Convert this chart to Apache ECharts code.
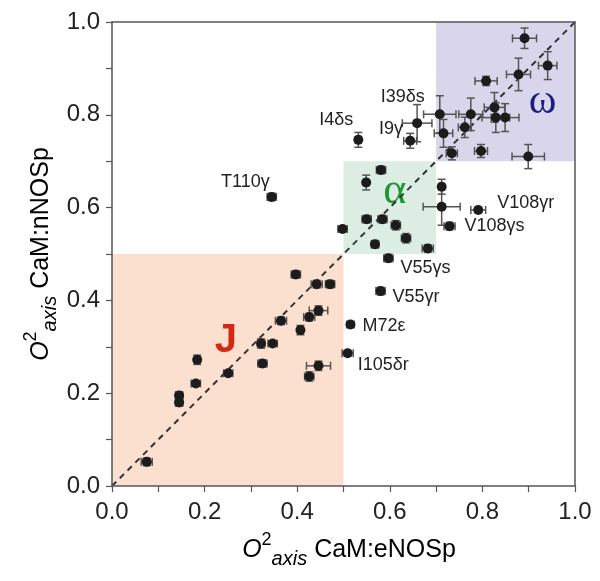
<!DOCTYPE html>
<html><head><meta charset="utf-8">
<script src="https://cdn.jsdelivr.net/npm/echarts@6/dist/echarts.min.js"></script>
<style>html,body{margin:0;padding:0;background:#fff}#c{width:600px;height:581px}</style>
</head><body><div id="c"></div>
<script>
// ---- data ----
const xVals = [0.075,0.145,0.145,0.184,0.181,0.251,0.322,0.347,0.325,0.365,0.397,0.442,0.471,0.446,0.426,0.407,0.446,0.426,0.515,0.509,0.580,0.597,0.345,
  0.581,0.549,0.550,0.584,0.613,0.498,0.568,0.635,0.682,0.712,0.712,0.729,0.791,0.532,0.659,0.644,
  0.891,0.941,0.878,0.808,0.826,0.775,0.708,0.829,0.849,0.762,0.716,0.734,0.797,0.899];
const yVals = [0.052,0.195,0.180,0.272,0.221,0.243,0.307,0.307,0.264,0.356,0.456,0.435,0.435,0.378,0.364,0.336,0.259,0.236,0.348,0.286,0.420,0.491,0.623,
  0.681,0.654,0.575,0.575,0.562,0.554,0.521,0.534,0.512,0.645,0.602,0.560,0.595,0.746,0.782,0.744,
  0.965,0.906,0.887,0.873,0.816,0.801,0.801,0.794,0.794,0.773,0.760,0.717,0.722,0.710];
const xErr = [0.012,0.008,0.008,0.006,0.010,0.010,0.008,0.010,0.010,0.012,0.010,0.012,0.010,0.020,0.012,0.006,0.026,0.010,0.008,0.012,0.010,0.010,0.010,
  0.010,0.006,0.010,0.010,0.010,0.010,0.008,0.010,0.012,0.006,0.040,0.012,0.016,0.006,0.032,0.014,
  0.026,0.020,0.026,0.024,0.022,0.026,0.035,0.030,0.030,0.014,0.020,0.012,0.014,0.035];
const yErr = [0.008,0.008,0.008,0.010,0.006,0.006,0.010,0.006,0.008,0.008,0.008,0.008,0.008,0.010,0.008,0.010,0.010,0.010,0.006,0.006,0.008,0.008,0.008,
  0.008,0.016,0.008,0.008,0.010,0.006,0.008,0.010,0.008,0.016,0.040,0.008,0.006,0.016,0.040,0.016,
  0.022,0.030,0.035,0.010,0.032,0.035,0.040,0.032,0.030,0.022,0.030,0.014,0.014,0.026];
// residue labels: point index -> name
const pointNames = {22:'T110γ',36:'I4δs',45:'I39δs',37:'I9γ',35:'V108γr',34:'V108γs',21:'V55γs',20:'V55γr',18:'M72ε',19:'I105δr'};
const tickValues = [0.0,0.2,0.4,0.6,0.8,1.0];
const regionNames = ['J','α','ω'];
const regionLo = [0.0,0.5,0.7];
const regionHi = [0.5,0.7,1.0];
const diagonal = [[0,0],[1,1]];

// ---- styles ----
const labelStyle = {
  'T110γ':{align:'right',offset:[-2,-15]},
  'I4δs':{align:'right',offset:[-5,-20]},
  'I39δs':{align:'right',offset:[-15,-17]},
  'I9γ':{align:'right',offset:[-14,6]},
  'V108γr':{align:'left',offset:[19,-7]},
  'V108γs':{align:'left',offset:[15,0]},
  'V55γs':{align:'left',offset:[12,10]},
  'V55γr':{align:'left',offset:[12,6]},
  'M72ε':{align:'left',offset:[12,2]},
  'I105δr':{align:'left',offset:[10,12]}
};
const regionStyle = [
  {fill:'rgb(251,223,207)', color:'rgb(212,40,18)', size:40, weight:'bold', family:'"Liberation Sans", Arial, sans-serif', offset:[-2,-29]},
  {fill:'rgb(220,238,227)', color:'rgb(30,150,50)', size:44, weight:'normal', family:'"Liberation Serif", "DejaVu Serif", serif', offset:[5,-16]},
  {fill:'rgb(217,214,236)', color:'rgb(25,30,130)', size:42, weight:'normal', family:'"Liberation Serif", "DejaVu Serif", serif', offset:[37,10]}
];
const FONT = '"Liberation Sans", Arial, Helvetica, sans-serif';

const scatterData = xVals.map((x,i)=>{
  const d = {value:[x,yVals[i]]};
  const n = pointNames[i];
  if (n) {
    const s = labelStyle[n];
    d.label = {show:true, formatter:n, position:'inside', align:s.align, verticalAlign:'middle', offset:s.offset,
      color:'#222', fontSize:18, fontFamily:FONT};
  }
  return d;
});
const errData = xVals.map((x,i)=>[x,yVals[i],xErr[i],yErr[i]]);

const markAreaData = regionNames.map((n,i)=>[
  {coord:[regionLo[i],regionLo[i]], name:n,
   itemStyle:{color:regionStyle[i].fill, opacity:1},
   label:{show:true, position:'inside', offset:regionStyle[i].offset, color:regionStyle[i].color,
     fontSize:regionStyle[i].size, fontWeight:regionStyle[i].weight, fontFamily:regionStyle[i].family}},
  {coord:[regionHi[i],regionHi[i]]}
]);

const richName = {
  o:{fontSize:25, fontStyle:'italic', fontFamily:FONT, color:'#222', lineHeight:38, verticalAlign:'middle'},
  sup:{fontSize:18, fontFamily:FONT, color:'#222', lineHeight:18, verticalAlign:'top'},
  sub:{fontSize:20, fontStyle:'italic', fontFamily:FONT, color:'#222', lineHeight:20, verticalAlign:'bottom'},
  n:{fontSize:25, fontFamily:FONT, color:'#222', lineHeight:38, verticalAlign:'middle'}
};

const chart = echarts.init(document.getElementById('c'), null, {renderer:'canvas'});
const axisCommon = {
  type:'value', min:0, max:1, interval:0.2,
  axisLine:{show:true, onZero:false, lineStyle:{color:'#555', width:1.5}},
  axisTick:{show:true, inside:false, length:6, lineStyle:{color:'#555', width:1.2}},
  minorTick:{show:true, splitNumber:2, length:6, lineStyle:{color:'#555', width:1.2}},
  splitLine:{show:false},
  axisLabel:{formatter:v=>tickValues.includes(Math.round(v*10)/10)? v.toFixed(1):'', fontSize:24, fontFamily:FONT, color:'#222'},
  z:10
};
const frameAxis = {type:'value', min:0, max:1, axisLine:{show:true, onZero:false, lineStyle:{color:'#555', width:1.5}},
  axisTick:{show:false}, axisLabel:{show:false}, splitLine:{show:false}, z:10};

chart.setOption({
  animation:false,
  backgroundColor:'#fff',
  grid:{left:112, right:25, top:22, bottom:95},
  xAxis:[Object.assign({}, axisCommon, {position:'bottom', axisLabel:Object.assign({}, axisCommon.axisLabel, {margin:14})}),
         Object.assign({}, frameAxis, {position:'top'})],
  yAxis:[Object.assign({}, axisCommon, {position:'left', axisLabel:Object.assign({}, axisCommon.axisLabel, {margin:12})}),
         Object.assign({}, frameAxis, {position:'right'})],
  graphic:[
    {type:'text', x:349, y:550, style:{text:'{o|O}{sup|2}{sub|axis}{n| CaM:eNOSp}', rich:richName, align:'center', verticalAlign:'middle'}},
    {type:'text', x:41, y:254, rotation:Math.PI/2, style:{text:'{o|O}{sup|2}{sub|axis}{n| CaM:nNOSp}', rich:richName, align:'center', verticalAlign:'middle'}}
  ],
  series:[
    {type:'scatter', data:[], z:1, silent:true, markArea:{silent:true, data:markAreaData}},
    {type:'line', data:diagonal, z:3, symbol:'none', silent:true,
      lineStyle:{color:'#333', width:2, type:[6,5]}},
    {type:'custom', data:errData, z:4, silent:true,
      encode:{x:0,y:1},
      renderItem:(params, api)=>{
        const x=api.value(0), y=api.value(1), ex=api.value(2), ey=api.value(3);
        const l=api.coord([x-ex,y]), r=api.coord([x+ex,y]);
        const t=api.coord([x,y+ey]), b=api.coord([x,y-ey]);
        const cap=4;
        const st={stroke:'#555', lineWidth:1.5, fill:null};
        const ch=[];
        ch.push({type:'line', shape:{x1:l[0],y1:l[1],x2:r[0],y2:r[1]}, style:st});
        ch.push({type:'line', shape:{x1:l[0],y1:l[1]-cap,x2:l[0],y2:l[1]+cap}, style:st});
        ch.push({type:'line', shape:{x1:r[0],y1:r[1]-cap,x2:r[0],y2:r[1]+cap}, style:st});
        ch.push({type:'line', shape:{x1:t[0],y1:t[1],x2:b[0],y2:b[1]}, style:st});
        ch.push({type:'line', shape:{x1:t[0]-cap,y1:t[1],x2:t[0]+cap,y2:t[1]}, style:st});
        ch.push({type:'line', shape:{x1:b[0]-cap,y1:b[1],x2:b[0]+cap,y2:b[1]}, style:st});
        return {type:'group', children:ch};
      }},
    {type:'scatter', data:scatterData, z:5, symbol:'circle', symbolSize:10,
      itemStyle:{color:'#1c1c1c', opacity:1}}
  ]
});
</script>
</body></html>
